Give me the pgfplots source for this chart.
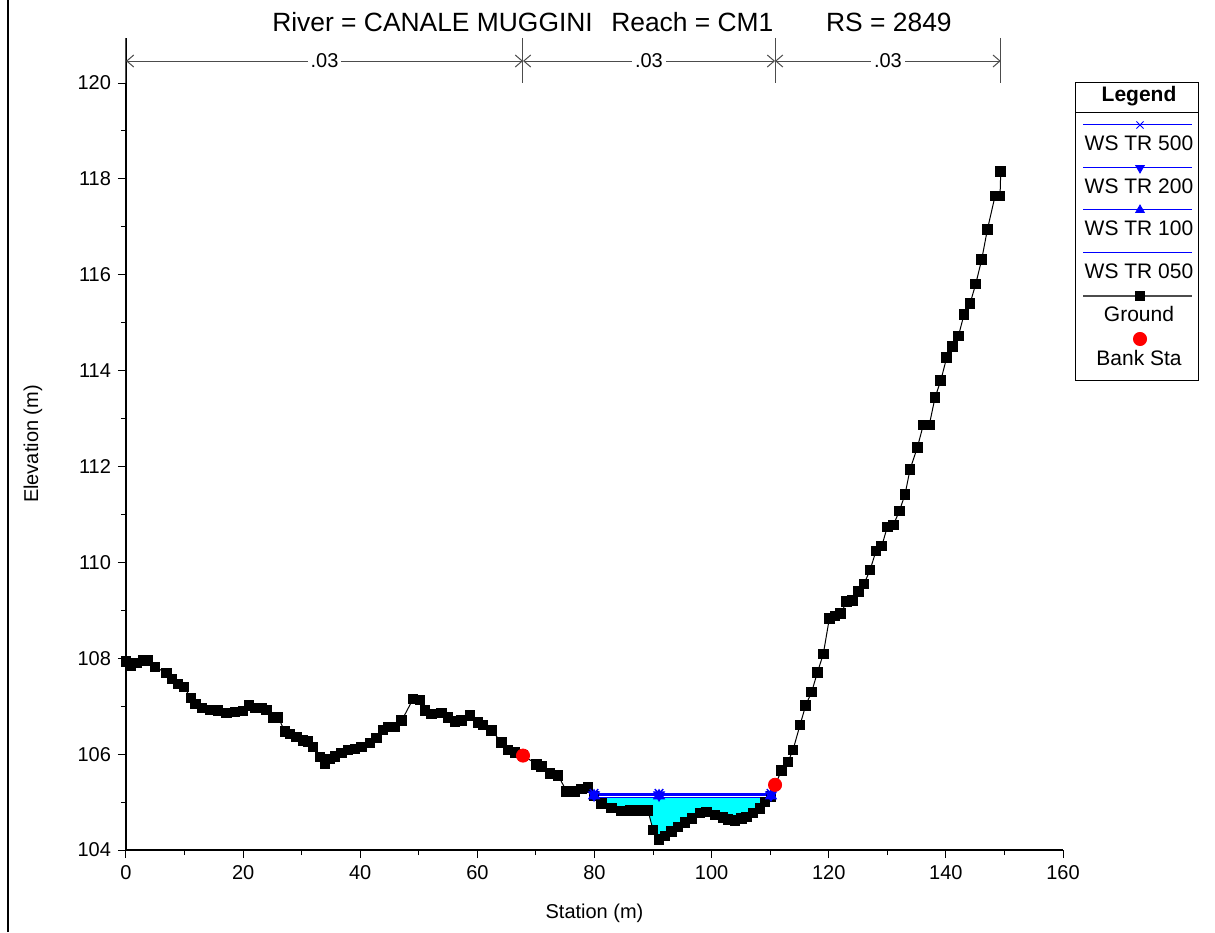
\documentclass[border=0pt]{standalone}
\usepackage{fontspec}
\setmainfont{Liberation Sans}
\usepackage{pgfplots}
\pgfplotsset{compat=1.18}
\usetikzlibrary{arrows.meta}
\definecolor{water}{RGB}{0,255,255}

\pgfplotstableread{
x y
0.00 107.93
0.85 107.84
1.83 107.90
2.90 107.95
3.76 107.95
4.95 107.82
6.95 107.69
7.86 107.57
8.88 107.46
9.90 107.40
11.10 107.17
11.90 107.05
12.98 106.96
14.34 106.92
15.71 106.91
17.20 106.86
18.61 106.88
19.98 106.90
21.00 107.02
22.15 106.96
23.17 106.96
24.03 106.92
25.10 106.77
25.96 106.77
27.15 106.47
28.01 106.42
29.15 106.36
30.23 106.29
31.08 106.26
31.93 106.15
33.13 105.94
33.98 105.81
34.84 105.90
35.70 105.95
36.83 106.02
37.91 106.09
39.11 106.11
40.25 106.15
41.67 106.23
42.81 106.34
43.89 106.50
44.74 106.57
45.94 106.57
47.08 106.70
49.01 107.15
50.20 107.13
51.06 106.91
52.20 106.84
53.91 106.86
54.99 106.77
56.18 106.68
57.33 106.70
58.74 106.80
60.11 106.66
60.96 106.61
62.45 106.49
64.16 106.24
65.23 106.09
66.40 106.03
67.79 105.97
70.13 105.79
70.99 105.74
72.40 105.59
73.77 105.56
75.25 105.22
76.67 105.22
77.82 105.27
78.89 105.31
79.92 105.13
81.23 104.97
82.94 104.88
84.65 104.81
86.07 104.82
87.77 104.82
89.14 104.82
89.99 104.42
91.02 104.22
92.04 104.29
93.19 104.38
94.26 104.48
95.46 104.57
96.65 104.66
98.02 104.77
99.16 104.79
100.58 104.73
101.95 104.68
102.80 104.64
104.00 104.61
105.14 104.66
105.99 104.69
107.07 104.77
108.27 104.87
109.12 105.00
110.14 105.11
110.83 105.36
111.97 105.66
113.05 105.84
113.90 106.09
115.10 106.61
116.07 107.02
117.09 107.30
118.05 107.70
119.07 108.09
120.10 108.83
121.07 108.88
122.05 108.94
123.07 109.18
124.03 109.21
125.05 109.39
126.02 109.55
127.05 109.84
128.07 110.24
129.05 110.34
130.00 110.74
131.03 110.78
132.05 111.07
133.03 111.42
133.88 111.94
135.13 112.40
136.15 112.87
137.17 112.87
138.15 113.44
139.12 113.79
140.15 114.28
141.10 114.51
142.13 114.72
143.10 115.17
144.13 115.40
145.10 115.81
146.12 116.32
147.08 116.94
148.39 117.64
149.25 117.64
149.37 118.16
}\ground

% wetted area below the lowest water surface
\pgfplotstableread{
x y
79.92 105.10
81.23 104.97
82.94 104.88
84.65 104.81
86.07 104.82
87.77 104.82
89.14 104.82
89.99 104.42
91.02 104.22
92.04 104.29
93.19 104.38
94.26 104.48
95.46 104.57
96.65 104.66
98.02 104.77
99.16 104.79
100.58 104.73
101.95 104.68
102.80 104.64
104.00 104.61
105.14 104.66
105.99 104.69
107.07 104.77
108.27 104.87
109.12 105.00
110.14 105.10
}\wet

\begin{document}
\begin{tikzpicture}[x=1pt,y=1pt]
\useasboundingbox (-63,-41) rectangle (544.5,425);
\fill[white] (-63,-41) rectangle (544.5,425);
\draw[line width=1pt] (-59,-41) -- (-59,425);

\begin{axis}[
  at={(0,0)}, anchor=south west,
  scale only axis,
  width=468.5pt, height=406pt,
  xmin=0, xmax=160, ymin=104, ymax=120.94,
  axis lines*=left,
  axis line style={line width=0.6pt},
  xtick={0,20,...,160}, minor x tick num=1,
  ytick={104,106,...,120}, minor y tick num=1,
  tick align=outside,
  major tick length=4pt, minor tick length=2.5pt,
  tick style={black, line width=0.5pt},
  /pgf/number format/assume math mode=true,
  tick label style={font=\fontsize{10}{12}\selectfont},
  xlabel={Station (m)}, ylabel={Elevation (m)},
  label style={font=\fontsize{10}{12}\selectfont},
  xlabel style={at={(axis description cs:0.5,-0.0776)}, anchor=center},
  ylabel style={at={(axis description cs:-0.0993,0.5)}, anchor=center},
  clip=false,
]
\addplot[fill=water, draw=none] table {\wet} -- cycle;

\addplot[black, line width=0.5pt, mark=square*, mark size=2.4pt,
  mark options={solid}] table {\ground};

\addplot[blue, line width=0.7pt] coordinates {(79.92,105.10) (91.02,105.10) (110.14,105.10)};
\addplot[blue, line width=0.6pt, mark=triangle*, mark size=3pt] coordinates {(79.92,105.13) (91.02,105.13) (110.14,105.13)};
\addplot[blue, line width=0.6pt, mark=triangle*, mark size=3pt, mark options={rotate=180}] coordinates {(79.92,105.15) (91.02,105.15) (110.14,105.15)};
\addplot[blue, line width=0.7pt, mark=x, mark size=3pt] coordinates {(79.92,105.18) (91.02,105.18) (110.14,105.18)};

\addplot[only marks, red, mark=*, mark size=3.3pt] coordinates {(67.79,105.97) (110.83,105.36)};

% Manning's n ranges
\draw[black!70, line width=0.5pt] (axis cs:0,120.94) -- (axis cs:0,120.0);
\draw[black!70, line width=0.5pt] (axis cs:67.79,120.94) -- (axis cs:67.79,120.0);
\draw[black!70, line width=0.5pt] (axis cs:110.83,120.94) -- (axis cs:110.83,120.0);
\draw[black!70, line width=0.5pt] (axis cs:149.37,120.94) -- (axis cs:149.37,120.0);
\draw[black!70, line width=0.5pt, {Straight Barb[length=3.5pt,width=6pt]}-{Straight Barb[length=3.5pt,width=6pt]}]
  (axis cs:0,120.46) -- (axis cs:67.79,120.46);
\draw[black!70, line width=0.5pt, {Straight Barb[length=3.5pt,width=6pt]}-{Straight Barb[length=3.5pt,width=6pt]}]
  (axis cs:67.79,120.46) -- (axis cs:110.83,120.46);
\draw[black!70, line width=0.5pt, {Straight Barb[length=3.5pt,width=6pt]}-{Straight Barb[length=3.5pt,width=6pt]}]
  (axis cs:110.83,120.46) -- (axis cs:149.37,120.46);
\node[fill=white, inner sep=1.5pt, font=\fontsize{10}{12}\selectfont] at (axis cs:33.9,120.46) {.03};
\node[fill=white, inner sep=1.5pt, font=\fontsize{10}{12}\selectfont] at (axis cs:89.3,120.46) {.03};
\node[fill=white, inner sep=1.5pt, font=\fontsize{10}{12}\selectfont] at (axis cs:130.1,120.46) {.03};
\end{axis}

\node[font=\fontsize{13.2}{15}\selectfont] at (243,414)
  {River = CANALE MUGGINI\hspace{0.7em}Reach = CM1\hspace{2em}RS = 2849};

% legend
\begin{scope}[font=\fontsize{10.5}{12}\selectfont]
\draw[line width=0.5pt] (474.5,234.5) rectangle (536,383.5);
\draw[line width=0.5pt] (474.5,368.5) -- (536,368.5);
\node[font=\fontsize{10.5}{12}\selectfont\bfseries] at (506.5,377) {Legend};
\draw[blue, line width=0.5pt] (478.5,362.5) -- (533,362.5);
\path[blue] plot[mark=x, mark size=2.5pt] coordinates {(507,362.5)};
\node at (506.5,353.5) {WS TR 500};
\draw[blue, line width=0.5pt] (478.5,341) -- (533,341);
\path[blue] plot[mark=triangle*, mark size=2.5pt, mark options={rotate=180}] coordinates {(507,341)};
\node at (506.5,332) {WS TR 200};
\draw[blue, line width=0.5pt] (478.5,320) -- (533,320);
\path[blue] plot[mark=triangle*, mark size=2.5pt] coordinates {(507,320)};
\node at (506.5,311) {WS TR 100};
\draw[blue, line width=0.5pt] (478.5,298.5) -- (533,298.5);
\node at (506.5,289.5) {WS TR 050};
\draw[black!70, line width=0.6pt] (478.5,277) -- (533,277);
\path[black] plot[mark=square*, mark size=2.2pt] coordinates {(507,277)};
\node at (506.5,268) {Ground};
\path[red] plot[mark=*, mark size=3.3pt] coordinates {(507,255.5)};
\node at (506.5,246) {Bank Sta};
\end{scope}
\end{tikzpicture}
\end{document}
